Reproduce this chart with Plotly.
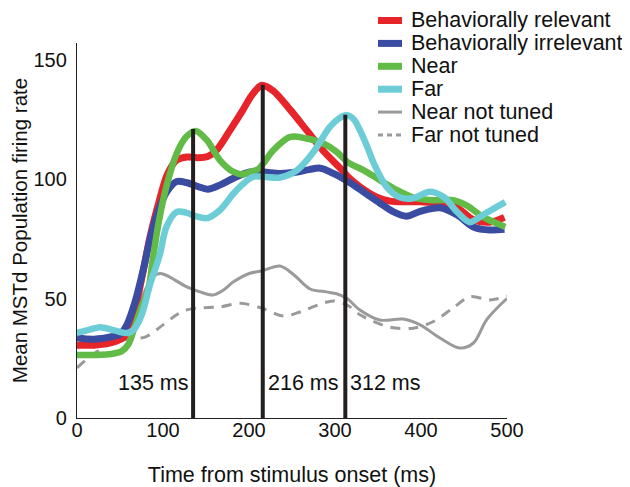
import plotly.graph_objects as go

# ---------------- data ----------------
series_names = ["Behaviorally relevant", "Behaviorally irrelevant", "Near", "Far",
                "Near not tuned", "Far not tuned"]

red_t = [0, 20, 40, 55, 65, 75, 85, 95, 105, 116, 128, 140, 152, 162, 178, 193, 203, 215,
         228, 248, 267, 286, 306, 315, 329, 348, 364, 383, 400, 422, 442, 461, 480, 497]
red_v = [30.5, 30.5, 31.5, 34, 42, 58, 76, 90, 102, 108, 109.3, 109, 109.5, 112, 120.5, 129,
         135, 139.3, 137, 129, 120.5, 112, 104.6, 101, 96.8, 92.6, 90.8, 90.5, 90.5, 90, 88,
         83, 82, 84]

blue_t = [0, 20, 40, 50, 58, 67, 77, 87, 97, 105, 116, 128, 140, 152, 166, 182, 201, 217,
          236, 256, 270, 283, 298, 315, 333, 352, 368, 383, 399, 422, 442, 461, 480, 497]
blue_v = [33.5, 33, 34, 35, 39, 48, 62, 78, 89, 95, 99, 98.5, 97, 95.8, 97.5, 100.4, 103,
          103, 102.4, 103, 104, 104.6, 102.4, 99, 94.7, 90, 86.3, 84.5, 86.5, 88, 85, 80,
          78.7, 79]

green_t = [0, 20, 40, 52, 60, 66, 75, 83, 88, 95, 104, 116, 127, 138, 151, 166, 182, 193,
           201, 210, 217, 228, 248, 267, 286, 302, 315, 333, 352, 372, 391, 414, 437, 453,
           472, 488, 498]
green_v = [26.4, 26.4, 26.8, 28, 31, 37, 46.6, 54, 66, 82, 97, 110.8, 117.7, 120.2, 116.3,
           108, 103, 102, 103, 104, 106.7, 112, 117.7, 117, 115, 111.4, 107, 103.8, 99.6,
           95.4, 92.3, 91.2, 91.2, 89, 84.2, 81.5, 80]

cyan_t = [0, 15, 27, 40, 50, 59, 66, 75, 85, 96, 104, 116, 127, 138, 151, 166, 182, 193,
          205, 217, 236, 256, 275, 294, 305, 314, 322, 329, 337, 345, 360, 376, 391, 410,
          426, 442, 457, 472, 488, 498]
cyan_v = [35.7, 37, 38, 37, 36, 35.6, 37, 43, 56, 68, 80, 86.3, 86, 84.5, 83.7, 87, 94, 98,
          101, 101, 100.7, 103.8, 111.4, 121.9, 125.5, 126.8, 125, 120.5, 114, 106.7, 96.8,
          92.3, 92, 94.7, 92.6, 86.3, 82, 85, 88.4, 90.4]

near_nt_t = [0, 30, 50, 62, 75, 88, 97, 108, 127, 143, 158, 170, 182, 201, 215, 236, 252,
             271, 290, 302, 314, 329, 352, 379, 399, 422, 445, 461, 476, 492, 500]
near_nt_v = [30, 31, 33, 37, 50, 59, 60.5, 59, 55, 52.8, 51.5, 53.5, 57, 60.6, 61.6, 63.6,
             60, 54, 52.8, 52, 50, 45.2, 41, 41.4, 39, 33.5, 29.3, 31.4, 41, 47.3, 50]

far_nt_t = [0, 20, 45, 60, 80, 100, 115, 125, 140, 166, 190, 215, 240, 260, 280, 298, 314,
            330, 364, 391, 414, 437, 457, 480, 500]
far_nt_v = [21, 27, 32, 33, 34, 39, 43, 45, 46, 46.5, 48, 46, 42.7, 44.5, 47.3, 49, 47.3,
            43, 38, 37.6, 40.3, 46, 50.8, 49.4, 51]

marker_times = [135, 216, 312]
marker_tops = [121, 139.5, 127]
marker_labels = ["135 ms", "216 ms", "312 ms"]

x_ticks = [0, 100, 200, 300, 400, 500]
y_ticks = [0, 50, 100, 150]

# ---------------- styling ----------------
FONT = "Liberation Sans, Arial, Helvetica, sans-serif"
colors = ["#e8242b", "#3a4ba2", "#62bb47", "#6ccdd7", "#9a9a9a", "#9a9a9a"]
widths = [7, 7, 6.5, 6.5, 3, 3]
dashes = ["solid", "solid", "solid", "solid", "solid", "10px,8px"]

OFF = 8  # default page body margin
W, H = 630 - OFF, 487 - OFF
# plot area in page pixels, converted to figure pixels
L, R, T, B = 77 - OFF, 507 - OFF, 43 - OFF, 418 - OFF

fig = go.Figure()

data = [(red_t, red_v), (blue_t, blue_v), (green_t, green_v), (cyan_t, cyan_v),
        (near_nt_t, near_nt_v), (far_nt_t, far_nt_v)]
draw_order = [5, 4, 0, 1, 2, 3]
for i in draw_order:
    t, v = data[i]
    fig.add_trace(go.Scatter(
        x=t, y=v, mode="lines", name=series_names[i], showlegend=False,
        line=dict(color=colors[i], width=widths[i], dash=dashes[i],
                  shape="spline", smoothing=0.9),
        hoverinfo="skip"))

# vertical latency markers
for t0, top in zip(marker_times, marker_tops):
    fig.add_trace(go.Scatter(
        x=[t0, t0], y=[0, top], mode="lines", showlegend=False,
        line=dict(color="#231f20", width=4), hoverinfo="skip"))

annotations = []
for k, (t0, lab) in enumerate(zip(marker_times, marker_labels)):
    left = (k == 0)
    annotations.append(dict(
        x=t0, y=14.5, xref="x", yref="y", text=lab, showarrow=False,
        xanchor="right" if left else "left", yanchor="middle",
        xshift=-2 if left else 3,
        font=dict(family=FONT, size=21.5, color="#111")))

# manual legend (compact spacing as in the reference); positions given in page pixels
def px_x(p):
    return (p - OFF - L) / (R - L)

def px_y(p):
    return (B - (p - OFF)) / (B - T)

leg_y = [20.5, 43.4, 66.3, 89.2, 112.1, 135]
shapes = []
for i, yy in enumerate(leg_y):
    annotations.append(dict(
        x=px_x(410), y=px_y(yy), xref="paper", yref="paper", text=series_names[i],
        showarrow=False, xanchor="left", yanchor="middle", borderpad=0,
        font=dict(family=FONT, size=21.5, color="#111")))
    shapes.append(dict(
        type="line", xref="paper", yref="paper",
        x0=px_x(378), x1=px_x(402), y0=px_y(yy), y1=px_y(yy),
        line=dict(color=colors[i], width=7 if i < 4 else 3,
                  dash="solid" if i < 5 else "5px,4px")))

fig.update_layout(
    width=W, height=H,
    margin=dict(l=L, r=W - R, t=T, b=H - B, autoexpand=False),
    paper_bgcolor="white", plot_bgcolor="white",
    font=dict(family=FONT, size=20, color="#111"),
    annotations=annotations, shapes=shapes,
    showlegend=False,
)
fig.update_xaxes(
    range=[0, 500], tickvals=x_ticks, ticks="", showgrid=False, zeroline=False,
    showline=True, linecolor="#222", linewidth=1.3, ticklabelstandoff=-6,
    tickfont=dict(family=FONT, size=20, color="#111"),
    title=dict(text="Time from stimulus onset (ms)", standoff=26,
               font=dict(family=FONT, size=21.5, color="#111")))
fig.update_yaxes(
    range=[0, 157], tickvals=y_ticks, ticks="", showgrid=False, zeroline=False,
    showline=True, linecolor="#222", linewidth=1.3, ticklabelstandoff=5,
    tickfont=dict(family=FONT, size=20, color="#111"),
    title=dict(text="Mean MSTd Population firing rate", standoff=16,
               font=dict(family=FONT, size=20.5, color="#111")))

fig.write_html("out.html")
